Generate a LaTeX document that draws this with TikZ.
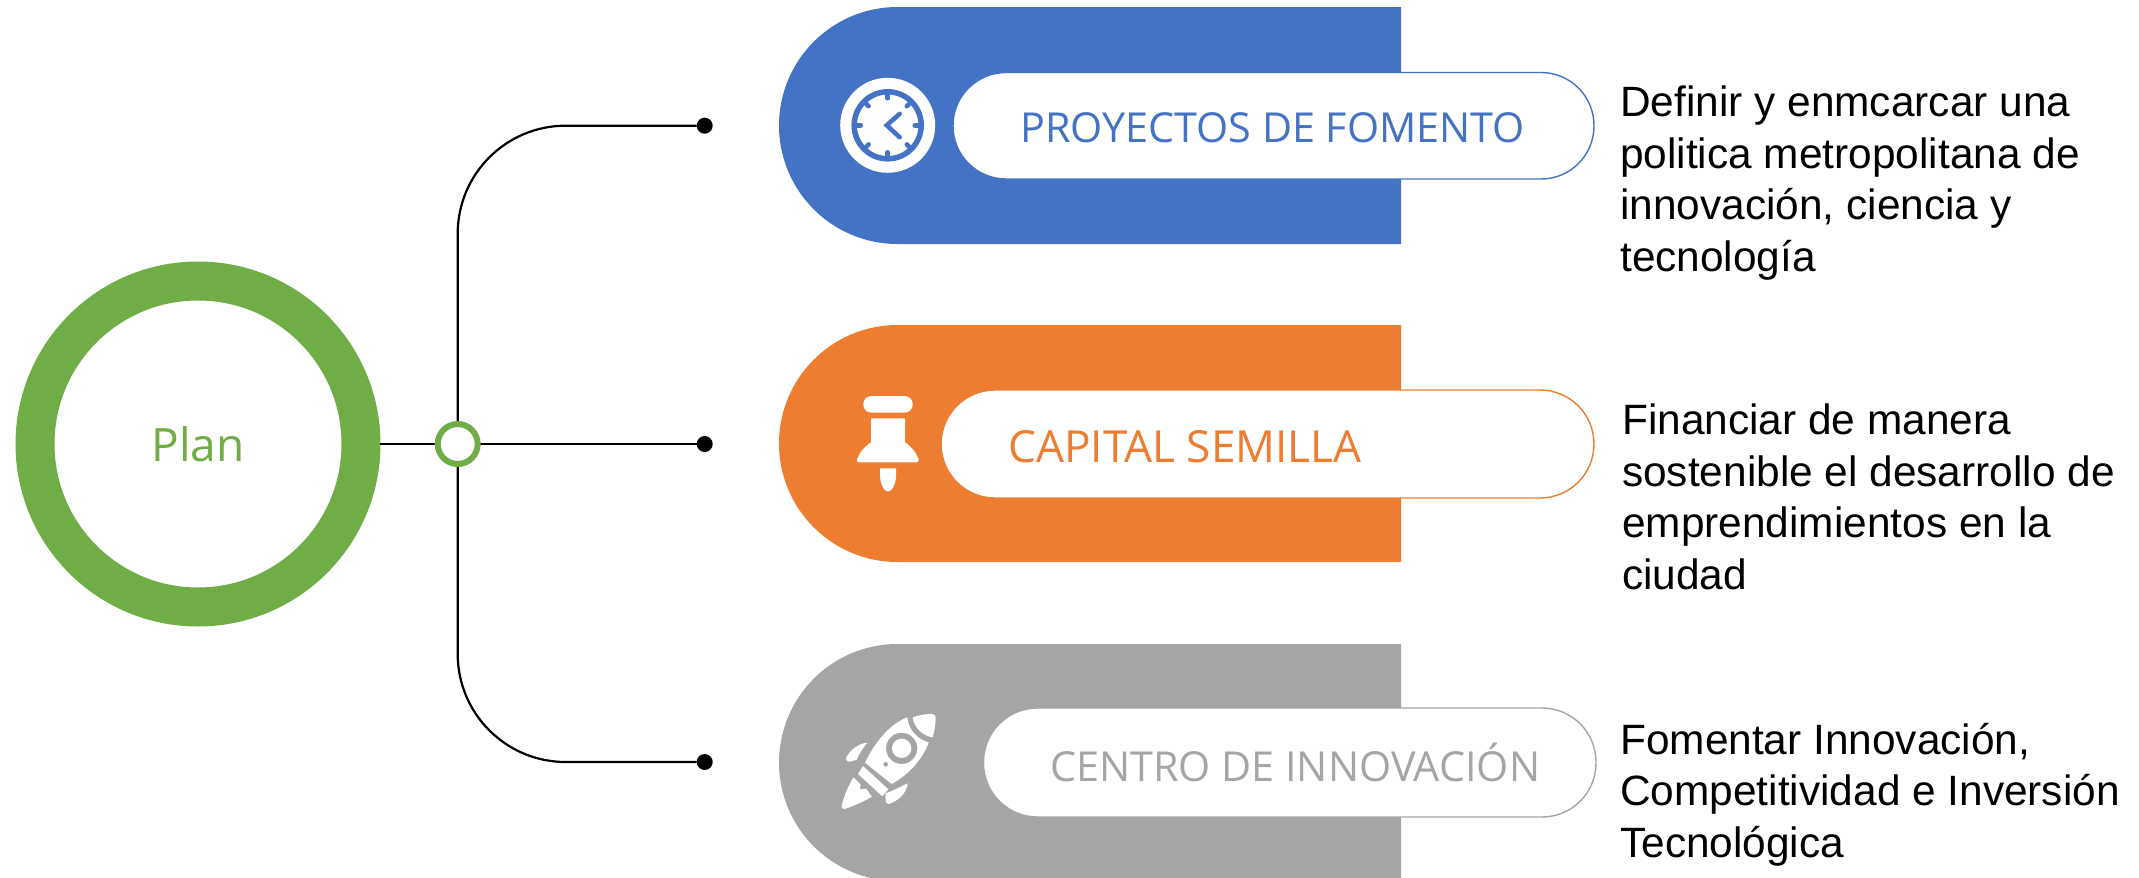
\documentclass[tikz,border=0pt]{standalone}
\usepackage{fontspec}
\setmainfont{Liberation Sans}
\newfontfamily\labelfont{Open Sans}
\definecolor{cblue}{HTML}{4472C4}
\definecolor{corange}{HTML}{ED7D31}
\definecolor{cgray}{HTML}{A5A5A5}
\definecolor{cgreen}{HTML}{70AD47}
\tikzset{
  conn/.style={draw=black,line width=2.2pt},
  enddot/.style={circle,fill=black,draw=none,inner sep=0pt,outer sep=0pt,minimum size=16pt},
  pilltext/.style={font=\labelfont\fontsize{41.3}{50}\selectfont,anchor=west,inner sep=0pt},
  desc/.style={font=\fontsize{42.4}{51.4}\selectfont,anchor=north west,align=left,inner sep=0pt,text=black},
  pill/.style={fill=white,line width=1.4pt,rounded corners=#1},
  tick/.style={draw=cblue,line width=4.5pt,line cap=round},
}
\begin{document}
\begin{tikzpicture}[x=1pt,y=-1pt]
\useasboundingbox (0,0) rectangle (2139,878);
% bands
\fill[cblue] (1401,7) -- (897.5,7) arc[start angle=-90,end angle=-270,radius=118.5] -- (1401,244) -- cycle;
\fill[corange] (1401,325) -- (897.5,325) arc[start angle=-90,end angle=-270,radius=118.5] -- (1401,562) -- cycle;
\fill[cgray] (1401,644) -- (897.5,644) arc[start angle=-90,end angle=-270,radius=118.5] -- (1401,881) -- cycle;
% pills
\draw[pill=53pt,draw=cblue] (953,72.5) rectangle (1594,179);
\draw[pill=54pt,draw=corange] (941,390) rectangle (1594,498);
\draw[pill=54pt,draw=cgray] (983.5,708) rectangle (1596,817);
\node[pilltext,text=cblue] (lblA) at (1020,128) {PROYECTOS DE FOMENTO};
\node[pilltext,text=corange,font=\labelfont\fontsize{44.2}{50}\selectfont] (lblB) at (1008,447) {CAPITAL SEMILLA};
\node[pilltext,text=cgray] (lblC) at (1050,762) {CENTRO DE INNOVACIÓN};
% connectors
\node[enddot] (dotA) at (704.7,125.7) {};
\node[enddot] (dotB) at (704.7,444) {};
\node[enddot] (dotC) at (704.7,762) {};
\coordinate (junc) at (457.7,444);
\node[circle,draw=cgreen,line width=39pt,minimum size=326pt,inner sep=0pt,outer sep=0pt,text=cgreen,font=\labelfont\fontsize{46}{50}\selectfont] (plan) at (198,444) {\raisebox{-1.5pt}{Plan}};
\draw[conn,shorten <=19pt] (plan.east) -- (dotB);
\draw[conn,rounded corners=108pt] (junc) |- (dotA);
\draw[conn,rounded corners=108pt] (junc) |- (dotC);
\node[circle,draw=cgreen,fill=white,line width=6pt,minimum size=40pt,inner sep=0pt,outer sep=0pt] (ring) at (junc) {};
% clock
\begin{scope}[shift={(887.7,125.3)}]
\fill[white] (0,0) circle[radius=47.5];
\draw[cblue,line width=5.5pt] (0,0) circle[radius=33.5];
\foreach \a in {0,45,...,315}{\draw[tick] (\a:31) -- (\a:27);}
\draw[tick] (12,-11.5) -- (-1,0) -- (12,12);
\end{scope}
% pin
\begin{scope}[shift={(820,380)},scale=1/3]
\fill[white,rounded corners=8pt] (130,48) rectangle (278,98);
\fill[white] (153,115) -- (255,115) -- (255,187) .. controls (275,200) and (290,220) .. (296,238) .. controls (297,244) and (294,247) .. (290,247) -- (117,247) .. controls (112,247) and (109,243) .. (111,238) .. controls (117,220) and (133,200) .. (153,187) -- cycle;
\fill[white] (180,265) -- (228,265) -- (228,293) .. controls (226,315) and (215,335) .. (204,335) .. controls (193,335) and (182,315) .. (180,293) -- cycle;
\end{scope}
% rocket
\begin{scope}[shift={(820,700)},scale=1/3]
\fill[white] (278,52) .. controls (298,45) and (318,42) .. (336,42) .. controls (343,42) and (347,47) .. (347,52) .. controls (347,72) and (344,92) .. (338,112) .. controls (310,108) and (282,85) .. (278,52) -- cycle;
\fill[white,even odd rule] (262,52) .. controls (218,68) and (170,115) .. (135,188) -- (215,252) .. controls (265,225) and (310,175) .. (326,127) .. controls (292,118) and (266,90) .. (262,52) -- cycle
 (245,145) circle[radius=47];
\fill[white] (245,145) circle[radius=29];
\fill[cgray] (197,193) circle[radius=7];
\fill[white] (129,198) -- (205,268) -- (187,289) -- (114,222) -- cycle;
\fill[white] (100,232) -- (122,254) -- (120,268) -- (138,266) -- (156,290) .. controls (130,305) and (100,318) .. (74,327) .. controls (66,329) and (62,322) .. (65,316) .. controls (72,288) and (85,258) .. (100,232) -- cycle;
\fill[white] (142,128) .. controls (115,130) and (90,150) .. (78,174) .. controls (77,182) and (83,187) .. (90,185) .. controls (96,182) and (102,182) .. (110,180) .. controls (115,165) and (128,145) .. (142,128) -- cycle;
\fill[white] (263,250) .. controls (260,280) and (235,302) .. (207,312) .. controls (200,313) and (196,308) .. (197,302) .. controls (197,295) and (195,287) .. (197,280) .. controls (220,272) and (245,258) .. (263,250) -- cycle;
\end{scope}
% descriptions
\node[desc] (descA) at (1620,86) {Definir y enmcarcar una\\politica metropolitana de\\innovación, ciencia y\\tecnología};
\node[desc] (descB) at (1622,404) {Financiar de manera\\sostenible el desarrollo de\\emprendimientos en la\\ciudad};
\node[desc] (descC) at (1620,723) {Fomentar Innovación,\\Competitividad e Inversión\\Tecnológica};
\end{tikzpicture}
\end{document}
